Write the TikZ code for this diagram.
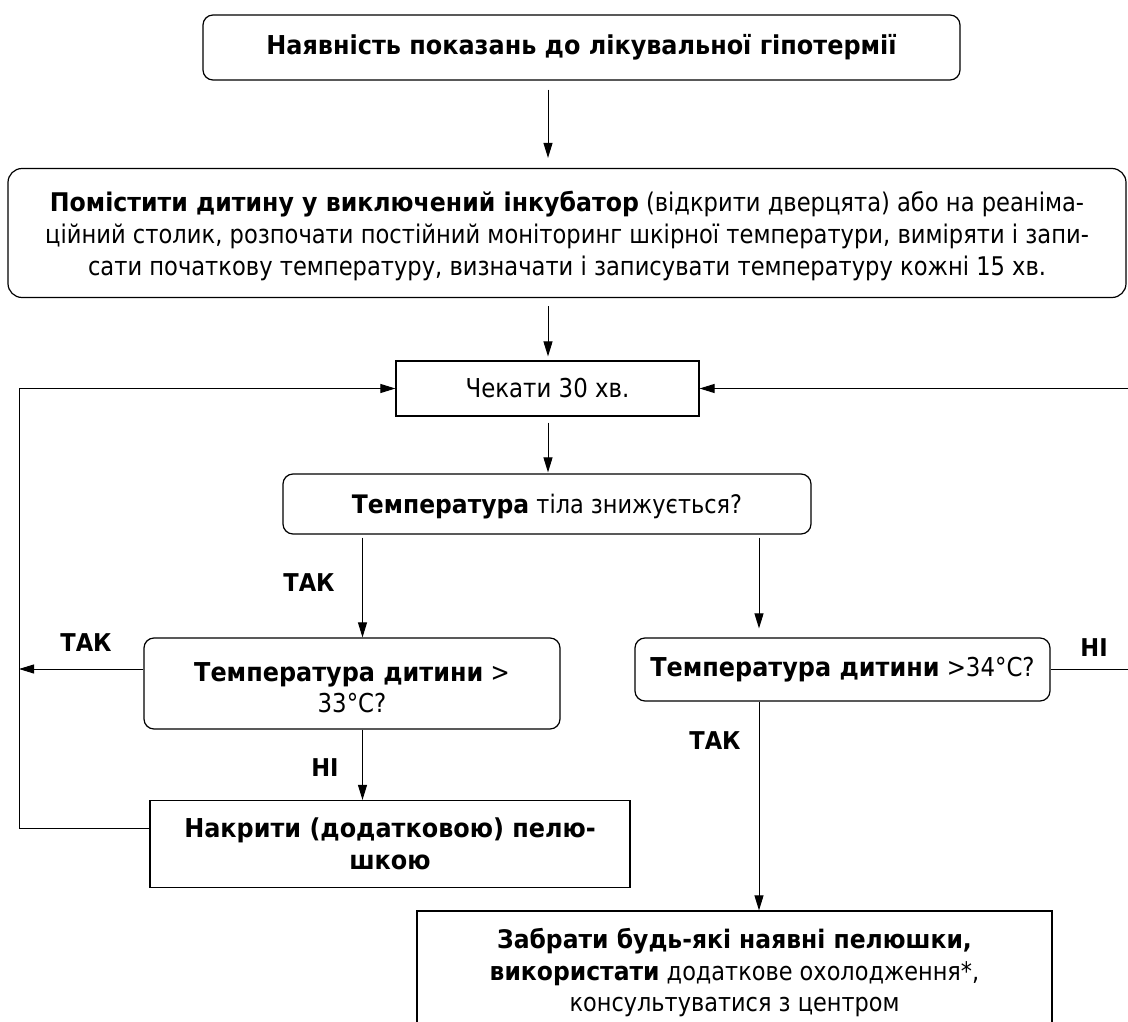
\documentclass[tikz,border=0pt]{standalone}
\usepackage{fontspec}
\setmainfont{DejaVu Sans}[FakeStretch=0.88,BoldFeatures={FakeStretch=0.92}]
\usetikzlibrary{arrows.meta,calc}
\newcommand{\fsz}[2]{\fontsize{#1}{#2}\selectfont}
\begin{document}
\begin{tikzpicture}[x=1pt,y=-1pt,
  box/.style={draw, line width=1.2pt, inner sep=0pt, align=center, anchor=center},
  rbox/.style={box, rounded corners=10pt},
  conn/.style={line width=1pt, -{Triangle[length=15pt,width=9pt]}},
  lbl/.style={font=\fsz{24.5}{30}\bfseries, inner sep=0pt}]
\clip (0,0) rectangle (1128,1022);
\fill[white] (0,0) rectangle (1128,1022);
% boxes
\node[rbox, minimum width=757pt, minimum height=65pt, font=\fsz{26}{31}\bfseries] (b1) at (581.5,47.5)
  {Наявність показань до лікувальної гіпотермії};
\node[rbox, rounded corners=14pt, minimum width=1118pt, minimum height=129pt, font=\fsz{25.7}{32}] (b2) at (567,233)
  {\rule{0pt}{27pt}\textbf{Помістити дитину у виключений інкубатор} (відкрити дверцята) або на реаніма-\\
   ційний столик, розпочати постійний моніторинг шкірної температури, виміряти і запи-\\
   сати початкову температуру, визначати і записувати температуру кожні 15 хв.};
\node[box, minimum width=303pt, minimum height=55pt, font=\fsz{26}{31}] (b3) at (547.5,388.5)
  {Чекати 30 хв.};
\node[rbox, minimum width=528pt, minimum height=60pt, font=\fsz{25.5}{31}, text depth=0pt] (b4) at (547,504)
  {\textbf{Температура} тіла знижується?};
\node[rbox, minimum width=416pt, minimum height=91pt, font=\fsz{26}{31}] (b5) at (352,683.5)
  {\rule{0pt}{28pt}\textbf{Температура дитини} >\\ 33°C?};
\node[rbox, minimum width=415pt, minimum height=63pt, font=\fsz{26}{31}] (b6) at (842.5,669.5)
  {\textbf{Температура дитини} >34°C?};
\node[box, minimum width=480pt, minimum height=87pt, font=\fsz{26}{32}\bfseries] (b7) at (390,844)
  {Накрити (додатковою) пелю-\\ шкою};
\node[box, minimum width=635pt, minimum height=124pt, font=\fsz{25.5}{31.5}] (b8) at (734.5,973)
  {\textbf{Забрати будь-які наявні пелюшки,}\\ \textbf{використати} додаткове охолодження*,\\ консультуватися з центром};
% labels
\node[lbl] (t1) at (309,583) {ТАК};
\node[lbl] (t2) at (86,643) {ТАК};
\node[lbl] (n1) at (325,768) {НІ};
\node[lbl] (t3) at (715,741) {ТАК};
\node[lbl] (n2) at (1094,648) {НІ};
% helper coordinates
\coordinate (xm) at (548,0);
\coordinate (xl) at (362.5,0);
\coordinate (xr) at (759,0);
\coordinate (yl) at (0,669);
\coordinate (y7) at (0,828);
\coordinate (lx) at (19,0);
\coordinate (rx) at (1135,0);
% connectors
\draw[conn, shorten <=9pt, shorten >=10pt] (xm |- b1.south) -- (xm |- b2.north);
\draw[conn, shorten <=8pt, shorten >=4pt] (xm |- b2.south) -- (xm |- b3.north);
\draw[conn, shorten <=6pt, shorten >=1pt] (xm |- b3.south) -- (xm |- b4.north);
\draw[conn, shorten <=3pt] (xl |- b4.south) -- (xl |- b5.north);
\draw[conn, shorten <=3pt, shorten >=9pt] (xr |- b4.south) -- (xr |- b6.north);
\draw[conn] (xl |- b5.south) -- (xl |- b7.north);
\draw[conn] (xr |- b6.south) -- (xr |- b8.north);
\draw[conn] (b5.west |- yl) -- (lx |- yl);
\draw[conn] (b7.west |- y7) -- (lx |- y7) -- (lx |- b3.west) -- (b3.west);
\draw[conn] (b6.east) -- (rx |- b6.east) -- (rx |- b3.east) -- (b3.east);
\end{tikzpicture}
\end{document}
